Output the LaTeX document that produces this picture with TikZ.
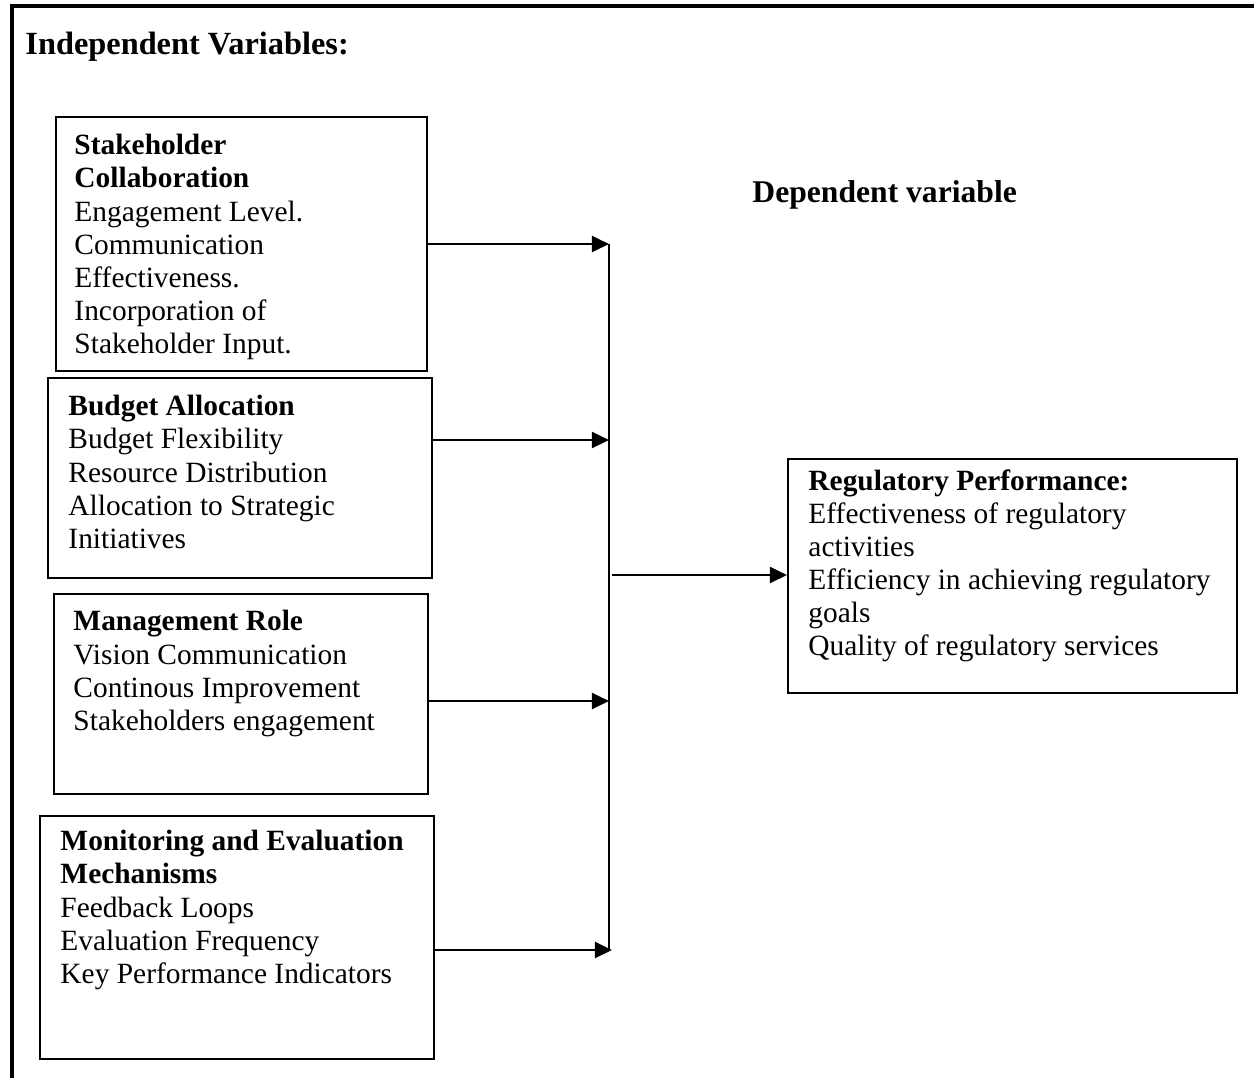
\documentclass[tikz,border=0pt]{standalone}
\usepackage{fontspec}
\setmainfont{Liberation Serif}
\usetikzlibrary{arrows.meta,positioning,calc}

\begin{document}
\begin{tikzpicture}[
  x=0.408pt, y=-0.408pt,
  font=\fontsize{12pt}{13.5pt}\selectfont,
  >={Triangle[length=7pt,width=6.5pt]},
  box/.style={draw=black, line width=0.75pt, anchor=north west, inner sep=0pt},
  txt/.style={anchor=north west, inner sep=0pt, align=left},
  arr/.style={->, line width=1.15pt},
  bus/.style={line width=0.55pt},
  frame/.style={line width=1.5pt},
  head/.style={anchor=base west, inner sep=0pt, font=\fontsize{#1}{#1}\selectfont\bfseries},
]
\useasboundingbox (0,0) rectangle (1254,1078);
\draw[frame] (12,1078) -- (12,6) -- (1254,6);

\node[head=13.2pt] (indep) at (25,54) {Independent Variables:};
\node[head=12.9pt] (dep) at (752,202) {Dependent variable};

% independent variables
\node[box, minimum width=151.4pt, minimum height=103.6pt] (stk) at (55,116) {};
\node[txt] (stktxt) at (74,134) {\textbf{Stakeholder}\\\textbf{Collaboration}\\Engagement Level.\\Communication\\Effectiveness.\\Incorporation of\\Stakeholder Input.};
\node[box, minimum width=156.7pt, minimum height=81.6pt] (bud) at (47,377) {};
\node[txt] (budtxt) at (68,395) {\textbf{Budget Allocation}\\Budget Flexibility\\Resource Distribution\\Allocation to Strategic\\Initiatives};
\node[box, minimum width=152.6pt, minimum height=81.6pt] (mgt) at (53,593) {};
\node[txt] (mgttxt) at (73,610) {\textbf{Management Role}\\Vision Communication\\Continous Improvement\\Stakeholders engagement};
\node[box, minimum width=160.8pt, minimum height=99.1pt] (mon) at (39,815) {};
\node[txt] (montxt) at (60,830) {\textbf{Monitoring and Evaluation}\\\textbf{Mechanisms}\\Feedback Loops\\Evaluation Frequency\\Key Performance Indicators};

% dependent variable
\node[box, minimum width=183.2pt, minimum height=95.5pt] (reg) at (787,458) {};
\node[txt] (regtxt) at (808,469) {\textbf{Regulatory Performance:}\\Effectiveness of regulatory\\activities\\Efficiency in achieving regulatory\\goals\\Quality of regulatory services};

\coordinate (j1) at (609,244);
\coordinate (j2) at (609,440);
\coordinate (j3) at (609,701);
\coordinate (j4) at (612,950);
\coordinate (jm) at (612,575);

\draw[bus] (j1) -- (609,950);
\draw[arr] (stk.east |- j1) -- (j1);
\draw[arr] (bud.east |- j2) -- (j2);
\draw[arr] (mgt.east |- j3) -- (j3);
\draw[arr] (mon.east |- j4) -- (j4);
\draw[arr] (jm) -- (reg.west |- jm);
\end{tikzpicture}
\end{document}
